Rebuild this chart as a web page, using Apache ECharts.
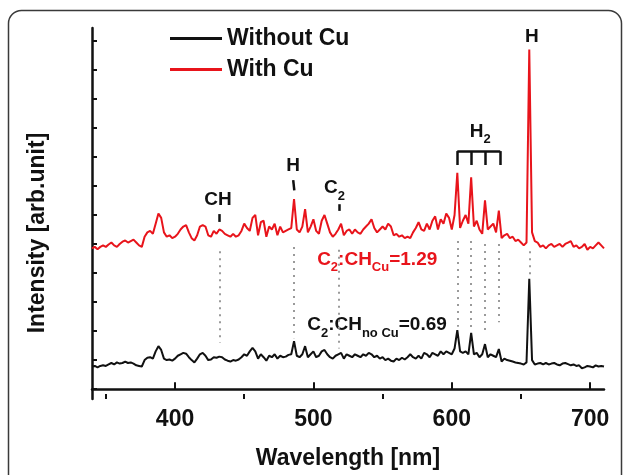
<!doctype html>
<html>
<head>
<meta charset="utf-8">
<title>OES spectra with / without Cu</title>
<script src="https://cdn.jsdelivr.net/npm/echarts@6/dist/echarts.min.js"></script>
<style>
  html, body { margin: 0; padding: 0; background: #fff; }
  #chart { width: 630px; height: 475px; }
</style>
</head>
<body>
<div id="chart"></div>
<script>
// wavelength grid [nm]
var wavelengths = [
  340,342,344,346,348,350,352,354,356,358,
  360,362,364,366,368,370,372,374,376,378,
  380,382,384,386,388,390,392,394,396,398,
  400,402,404,406,408,410,412,414,416,418,
  420,422,424,426,428,430,432,434,436,438,
  440,442,444,446,448,450,452,454,456,458,
  460,462,464,466,468,470,472,474,476,478,
  480,482,484,486,488,490,492,494,496,498,
  500,502,504,506,508,510,512,514,516,518,
  520,522,524,526,528,530,532,534,536,538,
  540,542,544,546,548,550,552,554,556,558,
  560,562,564,566,568,570,572,574,576,578,
  580,582,584,586,588,590,592,594,596,598,
  600,602,604,606,608,610,612,614,616,618,
  620,622,624,626,628,630,632,634,636,638,
  640,642,644,646,648,650,652,654,656,658,
  660,662,664,666,668,670,672,674,676,678,
  680,682,684,686,688,690,692,694,696,698,
  700,702,704,706,708,710
];

// intensity, arb. units (red trace, with Cu)
var withCu = [
  4.85,4.9,4.82,4.9,4.95,4.9,4.98,5.05,4.95,4.9,
  5.0,5.08,5.12,5.05,5.1,5.15,5.05,4.95,4.9,5.25,
  5.4,5.45,5.35,5.7,6.05,5.9,5.4,5.25,5.3,5.2,
  5.25,5.35,5.5,5.6,5.65,5.4,5.2,5.12,5.3,5.6,
  5.65,5.6,5.3,5.25,5.45,5.35,5.5,5.45,5.35,5.3,
  5.25,5.35,5.25,5.3,5.45,5.7,5.55,5.45,5.9,6.0,
  5.3,5.75,5.8,5.25,5.6,5.5,5.7,5.3,5.6,5.4,
  5.45,5.5,5.55,6.55,5.5,5.4,5.6,6.2,5.4,5.6,
  5.85,5.45,5.35,5.8,6.0,5.7,5.4,5.25,5.35,5.5,
  5.7,5.3,5.45,5.5,5.35,5.5,5.4,5.35,5.5,5.6,
  5.7,5.85,5.55,5.4,5.5,5.6,5.5,5.7,5.6,5.3,
  5.35,5.25,5.3,5.2,5.25,5.2,5.4,5.55,5.75,5.5,
  5.45,5.7,5.5,5.8,5.95,5.5,5.85,5.7,6.05,5.9,
  5.5,6.0,7.45,5.55,5.8,6.0,5.7,7.3,5.6,5.8,
  5.5,5.35,6.5,5.5,5.6,5.7,5.4,6.15,5.2,5.3,
  5.35,5.2,5.25,5.1,5.15,5.05,4.95,5.05,11.7,5.4,
  5.1,5.05,4.9,4.95,4.85,4.95,5.0,4.9,4.95,5.0,
  4.9,5.0,5.05,5.1,4.9,4.95,4.85,4.9,5.0,4.8,
  4.9,4.85,4.95,5.05,4.95,4.85
];

// intensity, arb. units (black trace, without Cu)
var withoutCu = [
  0.78,0.8,0.75,0.8,0.82,0.8,0.85,0.9,0.85,0.92,
  0.88,0.9,0.95,0.9,0.92,0.88,0.82,0.8,0.78,1.0,
  1.08,1.1,1.05,1.3,1.48,1.35,1.05,1.0,1.02,0.98,
  1.05,1.15,1.2,1.25,1.22,1.1,1.0,0.92,1.05,1.2,
  1.25,1.15,1.0,1.02,1.1,1.08,1.12,1.1,1.02,0.98,
  0.95,1.0,0.98,1.02,1.1,1.2,1.15,1.3,1.42,1.3,
  1.05,1.2,1.1,0.98,1.15,1.1,1.2,1.05,1.15,1.1,
  1.12,1.18,1.2,1.65,1.15,1.1,1.2,1.48,1.1,1.2,
  1.3,1.1,1.15,1.3,1.35,1.2,1.1,1.05,1.15,1.2,
  1.25,1.05,1.2,1.15,1.1,1.2,1.15,1.1,1.2,1.15,
  1.25,1.2,1.1,1.15,1.05,1.1,1.0,1.05,0.98,0.95,
  1.05,1.0,1.08,1.02,1.1,1.2,1.1,1.05,1.15,1.05,
  1.25,1.2,1.1,1.25,1.2,1.15,1.3,1.2,1.3,1.25,
  1.2,1.4,2.03,1.3,1.25,1.3,1.2,1.94,1.2,1.25,
  1.1,1.2,1.55,1.1,1.2,1.15,1.1,1.38,0.95,1.05,
  1.0,0.98,0.95,0.92,0.9,0.88,0.85,0.92,3.8,1.0,
  0.85,0.88,0.9,0.85,0.9,0.85,0.88,0.9,0.85,0.82,
  0.88,0.9,0.86,0.82,0.85,0.8,0.82,0.72,0.75,0.8,
  0.78,0.75,0.82,0.78,0.8,0.78
];

var xMajorTicks = [400, 500, 600, 700];
var xMinorTicks = [350, 450, 550, 650];
var yTicks = [0, 1, 2, 3, 4, 5, 6, 7, 8, 9, 10, 11, 12];

// dotted guides: [wavelength, top, bottom]
var guides = [
  [432, 4.75, 1.6], [486, 4.9, 1.75], [518, 4.8, 1.4],
  [604, 5.1, 2.15], [614, 5.1, 2.1], [624, 5.0, 2.0], [634, 5.0, 2.3],
  [656, 4.75, 3.95]
];
// short solid marks under line labels: [x1, y1, x2, y2]
var marks = [
  [432, 6.03, 432, 5.76],
  [485.4, 7.2, 486.2, 6.85],
  [519, 6.37, 519, 6.14],
  // H2 bracket
  [604, 8.2, 635, 8.2],
  [604, 8.2, 604, 7.72], [614, 8.2, 614, 7.72],
  [624, 8.2, 624, 7.72], [635, 8.2, 635, 7.72]
];

var font = '"Liberation Sans", Arial, sans-serif';

function pt(x, y, fmt, color, pos) {
  return {
    value: [x, y],
    label: { formatter: fmt, color: color || '#111', position: pos || 'inside', distance: 0 }
  };
}
var notes = [
  pt(431.1, 6.51, 'CH'),
  pt(485.3, 7.69, 'H'),
  pt(515.3, 6.92, 'C{s|2}'),
  pt(620.5, 8.88, 'H{s|2}'),
  pt(657.9, 12.14, 'H'),
  pt(502.7, 4.47, 'C{s|2}:CH{s|Cu}=1.29', '#e8141b', 'right'),
  pt(495.5, 2.2, 'C{s|2}:CH{s|no Cu}=0.69', '#111', 'right')
];

var chart = echarts.init(document.getElementById('chart'));

var guideLines = guides.map(function (g) {
  return [{ coord: [g[0], g[1]] }, { coord: [g[0], g[2]] }];
});
var markLines = marks.map(function (m) {
  return [
    { coord: [m[0], m[1]], lineStyle: { type: 'solid', color: '#111', width: 2.5 } },
    { coord: [m[2], m[3]] }
  ];
});

chart.setOption({
  animation: false,
  backgroundColor: '#fff',
  textStyle: { fontFamily: font },
  grid: { left: 92, right: 26, top: 28, bottom: 70 },
  legend: {
    data: [
      { name: 'Without Cu', icon: 'rect' },
      { name: 'With Cu', icon: 'rect' }
    ],
    orient: 'vertical',
    left: 170,
    top: 27,
    padding: 0,
    itemWidth: 52,
    itemHeight: 3,
    itemGap: 8,
    itemTextGap: 6,
    textStyle: { fontFamily: font, fontSize: 23, fontWeight: 'bold', color: '#111', lineHeight: 23 }
  },
  xAxis: [{
    type: 'value',
    min: 340,
    max: 710,
    name: 'Wavelength [nm]',
    nameLocation: 'middle',
    nameGap: 48,
    nameTextStyle: { fontFamily: font, fontSize: 23, fontWeight: 'bold', color: '#111' },
    axisLine: { lineStyle: { color: '#111', width: 2.5 } },
    axisTick: { inside: true, length: 7, customValues: xMajorTicks, lineStyle: { color: '#111', width: 2 } },
    axisLabel: { customValues: xMajorTicks, margin: 9, fontFamily: font, fontSize: 23, fontWeight: 'bold', color: '#111' },
    splitLine: { show: false }
  }, {
    type: 'value',
    position: 'bottom',
    min: 340,
    max: 710,
    axisLine: { show: false },
    axisTick: { inside: true, length: 5, customValues: xMinorTicks, lineStyle: { color: '#111', width: 2 } },
    axisLabel: { show: false },
    splitLine: { show: false }
  }],
  yAxis: {
    type: 'value',
    min: -0.34,
    max: 12.44,
    axisLine: { show: true, lineStyle: { color: '#111', width: 2.5 } },
    axisTick: { show: true, inside: true, length: 5, customValues: yTicks, lineStyle: { color: '#111', width: 2 } },
    axisLabel: { show: false },
    splitLine: { show: false }
  },
  graphic: [
    {
      type: 'rect',
      shape: { x: 8.5, y: 10.5, width: 613, height: 490, r: 13 },
      style: { fill: 'none', stroke: '#3a3a3a', lineWidth: 1.5 },
      silent: true
    },
    {
      type: 'text',
      x: 38, y: 233,
      rotation: Math.PI / 2,
      style: {
        text: 'Intensity [arb.unit]',
        font: 'bold 23px ' + font,
        fill: '#111',
        align: 'center',
        verticalAlign: 'middle'
      },
      silent: true
    }
  ],
  series: [
    {
      name: 'Without Cu',
      type: 'line',
      symbol: 'none',
      color: '#111',
      lineStyle: { width: 2, color: '#111' },
      data: wavelengths.map(function (w, i) { return [w, withoutCu[i]]; }),
      z: 3
    },
    {
      name: 'With Cu',
      type: 'line',
      symbol: 'none',
      color: '#e8141b',
      lineStyle: { width: 2, color: '#e8141b' },
      data: wavelengths.map(function (w, i) { return [w, withCu[i]]; }),
      z: 3
    },
    {
      name: 'notes',
      type: 'scatter',
      symbol: 'circle',
      symbolSize: 0,
      silent: true,
      itemStyle: { color: 'rgba(0,0,0,0)', opacity: 1 },
      label: {
        show: true,
        fontFamily: font,
        fontSize: 19,
        fontWeight: 'bold',
        lineHeight: 20,
        textBorderWidth: 0,
        opacity: 1,
        rich: {
          s: { fontFamily: font, fontSize: 13, fontWeight: 'bold', lineHeight: 14, padding: [16, 0, 0, 0] }
        }
      },
      data: notes,
      markLine: {
        silent: true,
        symbol: 'none',
        label: { show: false },
        lineStyle: { type: [2, 5], color: '#9a9a9a', width: 2 },
        data: guideLines.concat(markLines)
      },
      z: 4
    }
  ]
});
</script>
</body>
</html>
